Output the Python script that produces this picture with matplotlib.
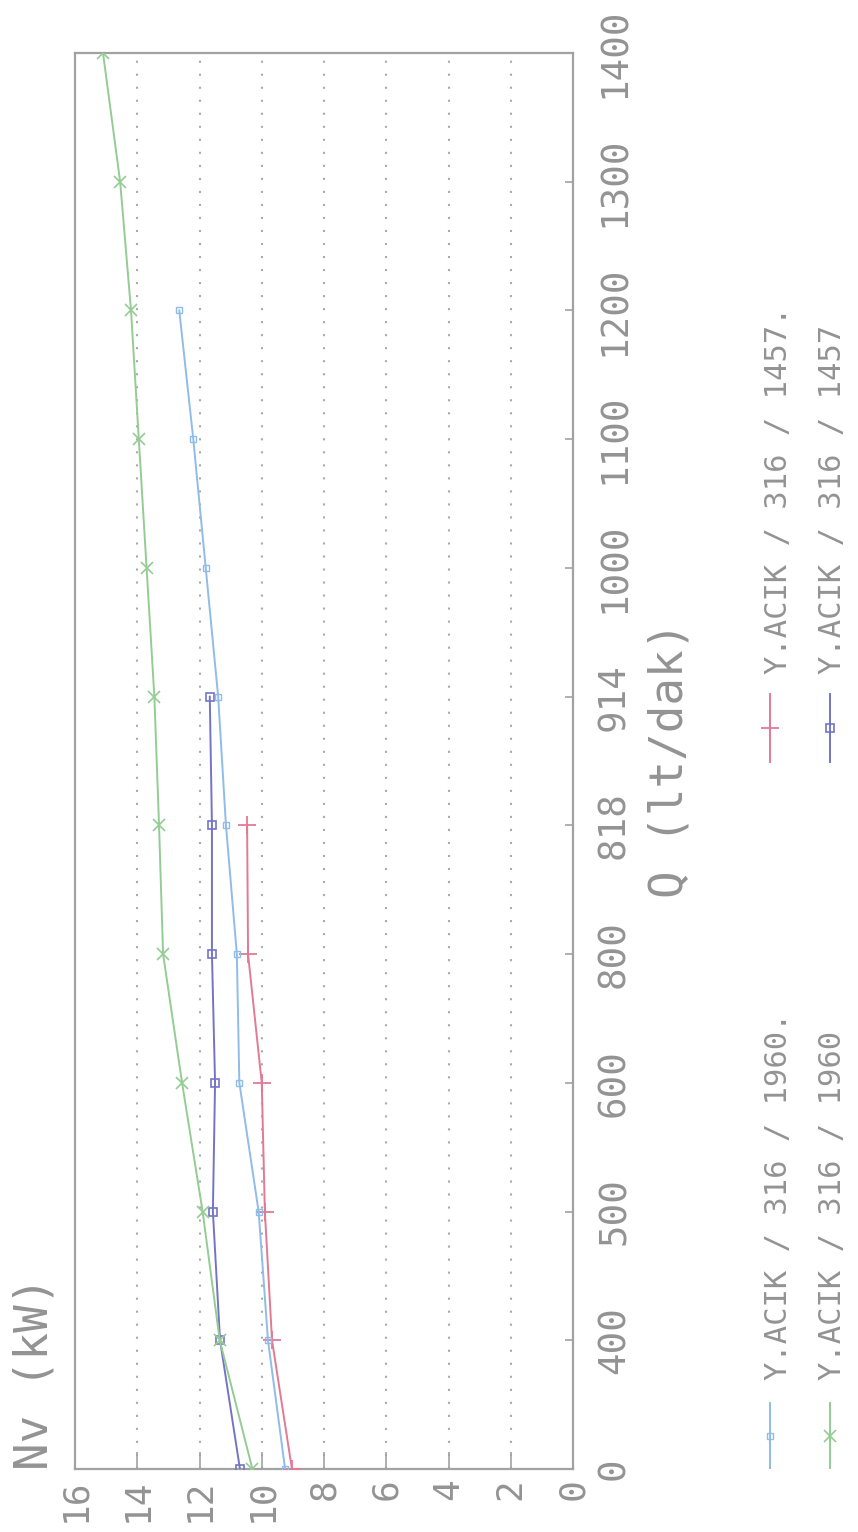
import matplotlib
matplotlib.use("Agg")
import matplotlib.pyplot as plt
from matplotlib.lines import Line2D
import numpy as np

# Flow rate categories (lt/dak) and power readings Nv (kW)
q_labels = ["0", "400", "500", "600", "800", "818", "914",
            "1000", "1100", "1200", "1300", "1400"]
nv_ticks = [0, 2, 4, 6, 8, 10, 12, 14, 16]

nv_1457_dot = [9.03, 9.67, 9.90, 10.00, 10.44, 10.47]
nv_1457 = [10.70, 11.34, 11.57, 11.50, 11.60, 11.60, 11.67]
nv_1960_dot = [9.25, 9.80, 10.10, 10.72, 10.80, 11.15, 11.40, 11.80, 12.20, 12.65]
nv_1960 = [10.30, 11.35, 11.90, 12.56, 13.17, 13.30, 13.45, 13.70, 13.95, 14.20, 14.55, 15.10]

names = ["Y.ACIK / 316 / 1457.", "Y.ACIK / 316 / 1457",
         "Y.ACIK / 316 / 1960.", "Y.ACIK / 316 / 1960"]

W, H = 858, 1532
TXT = "#939393"
FRAME = "#a2a2a2"
MONO = ["DejaVu Sans Mono"]

styles = [
    dict(color="#e27a95", marker="+", ms=13, mew=1.3),
    dict(color="#7474c6", marker="s", ms=6, mew=1.2, mfc="none"),
    dict(color="#8fbce8", marker="s", ms=4, mew=1.0, mfc="none"),
    dict(color="#94cc94", marker="x", ms=8, mew=1.2),
]
series = [nv_1457_dot, nv_1457, nv_1960_dot, nv_1960]

fig = plt.figure(figsize=(W / 100, H / 100), dpi=100)
fig.patch.set_facecolor("white")


def px(x, y):
    """Pixel position (from the top-left) to figure fraction."""
    return x / W, 1 - y / H


ax = fig.add_axes([75 / W, (H - 1469) / H, 498 / W, 1416 / H])

# Rotated layout: power runs right-to-left, flow runs bottom-to-top
for vals, st in zip(series, styles):
    idx = np.arange(len(vals))
    ax.plot(vals, idx, lw=1.4, zorder=3, **st)

ax.set_xlim(16, 0)
ax.set_ylim(0, len(q_labels) - 1)

ax.set_xticks(nv_ticks)
ax.set_xticklabels([str(v) for v in nv_ticks], rotation=90,
                   fontsize=26, color=TXT, family=MONO)
ax.tick_params(axis="x", direction="in", length=12, width=1.2,
               color=FRAME, pad=7)

ax.yaxis.tick_right()
ax.set_yticks(np.arange(len(q_labels)))
ax.set_yticklabels(q_labels, rotation=90, fontsize=27, color=TXT,
                   family=MONO, va="center")
ax.tick_params(axis="y", direction="in", length=6, width=1.2,
               color=FRAME, pad=17)

for v in nv_ticks[1:-1]:
    ax.axvline(v, color="#aaaaaa", lw=1.5, ls=(0, (1, 5.25)), zorder=1)

for sp in ax.spines.values():
    sp.set_color(FRAME)
    sp.set_linewidth(1.6)

# Axis titles
fx, fy = px(35, 1470)
fig.text(fx, fy, "Nv (kW)", rotation=90, ha="center", va="bottom",
         fontsize=33, color=TXT, family=MONO)
fx, fy = px(670, 760)
fig.text(fx, fy, "Q (lt/dak)", rotation=90, ha="center", va="center",
         fontsize=33, color=TXT, family=MONO)

# Legend, laid out in two columns beside the plot
legend_pos = [
    (770, 778, 694, 762, 674),
    (830, 832, 694, 762, 674),
    (770, 778, 1403, 1468, 1380),
    (830, 832, 1403, 1468, 1380),
]
for (lx, tx, y_top, y_bot, t_bot), st, name in zip(legend_pos, styles, names):
    x0, y0 = px(lx, y_bot)
    x1, y1 = px(lx, y_top)
    fig.add_artist(Line2D([x0, x1], [y0, y1], transform=fig.transFigure,
                          lw=1.4, color=st["color"]))
    fig.add_artist(Line2D([x0], [(y0 + y1) / 2], transform=fig.transFigure,
                          lw=0, **st))
    fx, fy = px(tx, t_bot)
    fig.text(fx, fy, name, rotation=90, ha="center", va="bottom",
             fontsize=22, color=TXT, family=MONO)

fig.savefig("out.png", dpi=100, facecolor="white")
